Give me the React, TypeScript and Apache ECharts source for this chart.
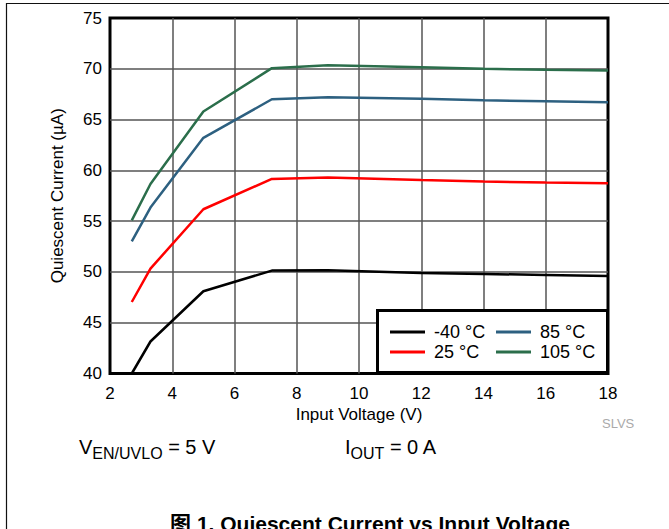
import React, { useEffect, useRef } from "react";
import * as echarts from "echarts";

const voltages = [2.7, 3.3, 5, 7.2, 9, 12, 14, 16, 18];
const iqM40 = [40.0, 43.15, 48.1, 50.13, 50.16, 49.9, 49.8, 49.7, 49.6];
const iq25 = [47.04, 50.33, 56.17, 59.16, 59.3, 59.05, 58.9, 58.8, 58.73];
const iq85 = [53.0, 56.34, 63.2, 67.0, 67.2, 67.05, 66.9, 66.8, 66.7];
const iq105 = [55.08, 58.66, 65.8, 70.06, 70.36, 70.15, 70.0, 69.9, 69.82];

const seriesNames = ["-40 °C", "25 °C", "85 °C", "105 °C"];
const seriesColors = ["#000000", "#ff0000", "#2d6080", "#2b6e4b"];
const seriesValues = [iqM40, iq25, iq85, iq105];

const xTitle = "Input Voltage (V)";
const yTitle = "Quiescent Current (µA)";
const figTitle = "图 1. Quiescent Current vs Input Voltage";

const FONT = "'Liberation Sans', Arial, 'Noto Sans CJK SC', sans-serif";

export default function App() {
  const ref = useRef<HTMLDivElement>(null);
  useEffect(() => {
    if (!ref.current) return;
    const chart = echarts.init(ref.current, null, { renderer: "svg" });
    const legendText = { fontSize: 18, fontFamily: FONT, color: "#000", lineHeight: 18, padding: [0, 0, 0, 4] };
    chart.setOption({
      animation: false,
      backgroundColor: "#ffffff",
      grid: {
        left: 110,
        top: 18,
        right: 61,
        bottom: 155.5,
        show: true,
        borderWidth: 3,
        borderColor: "#000",
        backgroundColor: "transparent",
      },
      xAxis: {
        type: "value",
        min: 2,
        max: 18,
        interval: 2,
        name: xTitle,
        nameLocation: "middle",
        nameGap: 32,
        nameTextStyle: { fontSize: 17, fontFamily: FONT, color: "#000" },
        axisLine: { show: false },
        axisTick: { show: false },
        axisLabel: { fontSize: 17, fontFamily: FONT, color: "#000", margin: 11 },
        splitLine: { show: true, showMinLine: false, showMaxLine: false, lineStyle: { color: "#555", width: 1.5 } },
      },
      yAxis: {
        type: "value",
        min: 40,
        max: 75,
        interval: 5,
        name: yTitle,
        nameLocation: "middle",
        nameGap: 44,
        nameTextStyle: { fontSize: 17, fontFamily: FONT, color: "#000" },
        axisLine: { show: false },
        axisTick: { show: false },
        axisLabel: { fontSize: 17, fontFamily: FONT, color: "#000", margin: 8 },
        splitLine: { show: true, showMinLine: false, showMaxLine: false, lineStyle: { color: "#555", width: 1.5 } },
      },
      legend: [
        {
          data: [seriesNames[0], seriesNames[1]],
          orient: "vertical",
          left: 390,
          top: 323,
          padding: 0,
          itemGap: 2,
          itemWidth: 35,
          itemHeight: 3,
          icon: "rect",
          textStyle: legendText,
          z: 10,
        },
        {
          data: [seriesNames[2], seriesNames[3]],
          orient: "vertical",
          left: 496,
          top: 323,
          padding: 0,
          itemGap: 2,
          itemWidth: 35,
          itemHeight: 3,
          icon: "rect",
          textStyle: legendText,
          z: 10,
        },
      ],
      series: seriesNames.map((name, i) => ({
        name,
        type: "line",
        data: voltages.map((v, j) => [v, seriesValues[i][j]]),
        showSymbol: false,
        symbol: "none",
        color: seriesColors[i],
        lineStyle: { color: seriesColors[i], width: 2.5 },
        z: 2,
      })),
      graphic: [
        {
          type: "rect",
          z: 5,
          shape: { x: 377.5, y: 310.5, width: 230, height: 62 },
          style: { fill: "#fff", stroke: "#000", lineWidth: 3 },
        },
        {
          type: "line",
          z: 1,
          shape: { x1: 6, y1: 3.5, x2: 669, y2: 3.5 },
          style: { stroke: "#111", lineWidth: 1.2 },
        },
        {
          type: "line",
          z: 1,
          shape: { x1: 6.5, y1: 3, x2: 6.5, y2: 529 },
          style: { stroke: "#111", lineWidth: 1.2 },
        },
        {
          type: "text",
          x: 602,
          y: 423,
          style: { text: "SLVS", fontSize: 13, fontFamily: FONT, fill: "#aaaaaa", verticalAlign: "middle" },
        },
        {
          type: "text",
          x: 79,
          y: 447,
          style: {
            text: "{m|V}{s|EN/UVLO}{m| = 5 V}",
            verticalAlign: "middle",
            fill: "#000",
            rich: {
              m: { fontSize: 20, fontFamily: FONT, color: "#000", verticalAlign: "middle" },
              s: { fontSize: 16, fontFamily: FONT, color: "#000", verticalAlign: "middle", padding: [12, 0, 0, 0] },
            },
          },
        },
        {
          type: "text",
          x: 345,
          y: 447,
          style: {
            text: "{m|I}{s|OUT}{m| = 0 A}",
            verticalAlign: "middle",
            fill: "#000",
            rich: {
              m: { fontSize: 20, fontFamily: FONT, color: "#000", verticalAlign: "middle" },
              s: { fontSize: 16, fontFamily: FONT, color: "#000", verticalAlign: "middle", padding: [12, 0, 0, 0] },
            },
          },
        },
        {
          type: "text",
          x: 370,
          y: 523,
          style: {
            text: figTitle,
            fontSize: 21,
            fontWeight: "bold",
            fontFamily: FONT,
            fill: "#000",
            align: "center",
            verticalAlign: "middle",
          },
        },
      ],
    });
    return () => chart.dispose();
  }, []);
  return (
    <div
      ref={ref}
      style={{ position: "fixed", left: 0, top: 0, width: 669, height: 529, background: "#fff" }}
    />
  );
}
